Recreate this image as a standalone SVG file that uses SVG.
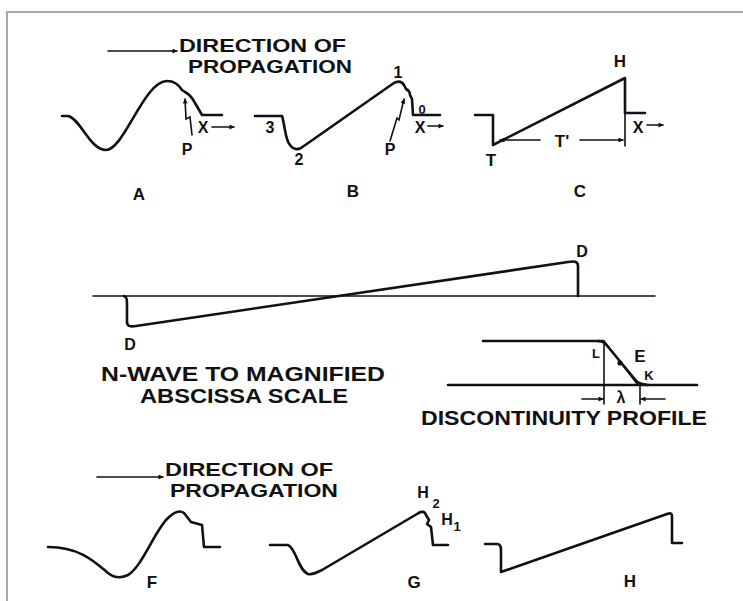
<svg xmlns="http://www.w3.org/2000/svg" width="743" height="601" viewBox="0 0 743 601">
<style>
.w{fill:none;stroke:#111;stroke-width:2.6;stroke-linejoin:round;stroke-linecap:round}
.th{fill:none;stroke:#111;stroke-width:1.6;stroke-linecap:round}
.t{font-family:"Liberation Sans",Arial,Helvetica,sans-serif;font-weight:bold;fill:#111}
.cap{font-size:21px}
.dir{font-size:18px}
.lbl{font-size:17px}
.sm{font-size:13px}
.md{font-size:16px}
</style>
<defs>
<marker id="ah" viewBox="0 0 10 10" refX="9" refY="5" markerWidth="7" markerHeight="5" orient="auto" markerUnits="userSpaceOnUse">
<path d="M0,0 L10,5 L0,10 Z" fill="#111"/>
</marker>
<marker id="ahs" viewBox="0 0 10 10" refX="9" refY="5" markerWidth="6" markerHeight="5" orient="auto" markerUnits="userSpaceOnUse">
<path d="M0,0 L10,5 L0,10 Z" fill="#111"/>
</marker>
</defs>
<rect width="743" height="601" fill="#fff"/>
<path d="M7,601 V12 H743" fill="none" stroke="#a8a8a8" stroke-width="2"/>

<g id="top-direction">
<line class="th" x1="108" y1="51" x2="177" y2="51" marker-end="url(#ah)"/>
<text class="t dir" x="179" y="52" textLength="167" lengthAdjust="spacingAndGlyphs">DIRECTION OF</text>
<text class="t dir" x="188" y="73" textLength="164" lengthAdjust="spacingAndGlyphs">PROPAGATION</text>
</g>

<g id="wave-A">
<path class="w" d="M62,116 H68 C80,118 90,150 106,150 C124,150 144,81 167,81 C175,81 179,85 182,90 L185,92 C189,94 192,97 195,103 L202,115 H222"/>
<path class="th" d="M192,135 L190,117 L186,119 L185,99" marker-end="url(#ahs)"/>
<text class="t md" x="187" y="155" text-anchor="middle">P</text>
<text class="t md" x="203" y="133" text-anchor="middle">X</text>
<line class="th" x1="212" y1="127" x2="234" y2="127" marker-end="url(#ahs)"/>
<text class="t lbl" x="139" y="200" text-anchor="middle">A</text>
</g>

<g id="wave-B">
<path class="w" d="M255,116 H282 C285,125 285,140 290,145 C293,149 297,150 301,148 L391,85 C396,81 401,80 404,85 L406,89 C408,90 410,92 410,95 L412,99 L413,115 H440"/>
<path class="th" d="M390,141 L397,118 L399,120 L404,99" marker-end="url(#ahs)"/>
<text class="t md" x="270" y="133" text-anchor="middle">3</text>
<text class="t md" x="299" y="165" text-anchor="middle">2</text>
<text class="t md" x="398" y="78" text-anchor="middle">1</text>
<text class="t sm" x="422" y="114" text-anchor="middle">0</text>
<text class="t md" x="420" y="133" text-anchor="middle">X</text>
<line class="th" x1="428" y1="126" x2="443" y2="126" marker-end="url(#ahs)"/>
<text class="t md" x="390" y="155" text-anchor="middle">P</text>
<text class="t lbl" x="353" y="197" text-anchor="middle">B</text>
</g>

<g id="wave-C">
<path class="w" d="M475,115 H493 V145 L625,78 V113 H645"/>
<line class="th" x1="625" y1="113" x2="625" y2="146"/>
<line class="th" x1="540" y1="140" x2="500" y2="140" marker-end="url(#ahs)"/>
<line class="th" x1="580" y1="140" x2="623" y2="140" marker-end="url(#ahs)"/>
<text class="t lbl" x="562" y="147" text-anchor="middle">T'</text>
<text class="t lbl" x="491" y="166" text-anchor="middle">T</text>
<text class="t lbl" x="620" y="67" text-anchor="middle">H</text>
<text class="t md" x="638" y="133" text-anchor="middle">X</text>
<line class="th" x1="647" y1="125" x2="663" y2="125" marker-end="url(#ahs)"/>
<text class="t lbl" x="580" y="197" text-anchor="middle">C</text>
</g>

<g id="n-wave">
<line class="th" x1="93" y1="296" x2="655" y2="296" stroke-width="2"/>
<path class="w" d="M124,296 C127,297 127,300 127,305 V322 C127,326 130,327 136,326 L568,262 C574,261 578,261 578,266 V296"/>
<text class="t md" x="130" y="350" text-anchor="middle">D</text>
<text class="t md" x="582" y="257" text-anchor="middle">D</text>
<text class="t cap" x="101" y="381" textLength="284" lengthAdjust="spacingAndGlyphs">N-WAVE TO MAGNIFIED</text>
<text class="t cap" x="140" y="403" textLength="208" lengthAdjust="spacingAndGlyphs">ABSCISSA SCALE</text>
</g>

<g id="discontinuity">
<line class="w" x1="483" y1="341" x2="603" y2="341"/>
<line class="w" x1="448" y1="385" x2="697" y2="385"/>
<path class="w" d="M598,341 C604,341 606,344 609,348 L633,377 C637,383 640,384 648,385"/>
<line class="th" x1="604" y1="341" x2="638" y2="385" stroke-width="1.2"/>
<line class="th" x1="604" y1="341" x2="604" y2="404" stroke-width="1.2"/>
<line class="th" x1="640" y1="385" x2="640" y2="404" stroke-width="1.2"/>
<line class="th" x1="582" y1="399" x2="603" y2="399" stroke-width="1.2" marker-end="url(#ahs)"/>
<line class="th" x1="665" y1="399" x2="641" y2="399" stroke-width="1.2" marker-end="url(#ahs)"/>
<circle cx="620" cy="363" r="2.6" fill="#111"/>
<text class="t md" x="621" y="403" text-anchor="middle" font-family="DejaVu Sans, sans-serif">λ</text>
<text class="t sm" x="596" y="358" text-anchor="middle">L</text>
<text class="t lbl" x="640" y="362" text-anchor="middle">E</text>
<text class="t sm" x="649" y="380" text-anchor="middle">K</text>
<text class="t cap" x="421" y="425" textLength="286" lengthAdjust="spacingAndGlyphs">DISCONTINUITY PROFILE</text>
</g>

<g id="bottom-direction">
<line class="th" x1="97" y1="477" x2="163" y2="477" marker-end="url(#ah)"/>
<text class="t dir" x="165" y="476" textLength="168" lengthAdjust="spacingAndGlyphs">DIRECTION OF</text>
<text class="t dir" x="170" y="497" textLength="168" lengthAdjust="spacingAndGlyphs">PROPAGATION</text>
</g>

<g id="wave-F">
<path class="w" d="M48,547 C80,547 95,562 108,573 C113,577 120,579 128,575 C142,567 155,530 168,518 C174,512 180,510 184,513 L191,522 L202,525 L204,547 H220"/>
<text class="t lbl" x="152" y="588" text-anchor="middle">F</text>
</g>

<g id="wave-G">
<path class="w" d="M270,545 H288 C296,548 298,570 308,574 C312,575 316,573 322,570 L417,514 C421,511 425,511 426,515 L429,520 L427,524 L431,527 L433,545 H448"/>
<text class="t md" x="423" y="498" text-anchor="middle">H</text>
<text class="t sm" x="436" y="508" text-anchor="middle">2</text>
<text class="t md" x="447" y="525" text-anchor="middle">H</text>
<text class="t sm" x="457" y="531" text-anchor="middle">1</text>
<text class="t lbl" x="414" y="588" text-anchor="middle">G</text>
</g>

<g id="wave-H">
<path class="w" d="M485,544 H497 C500,544 501,546 501,550 V572 L667,514 C670,513 672,513 672,516 V543 H682"/>
<text class="t lbl" x="630" y="587" text-anchor="middle">H</text>
</g>
</svg>
